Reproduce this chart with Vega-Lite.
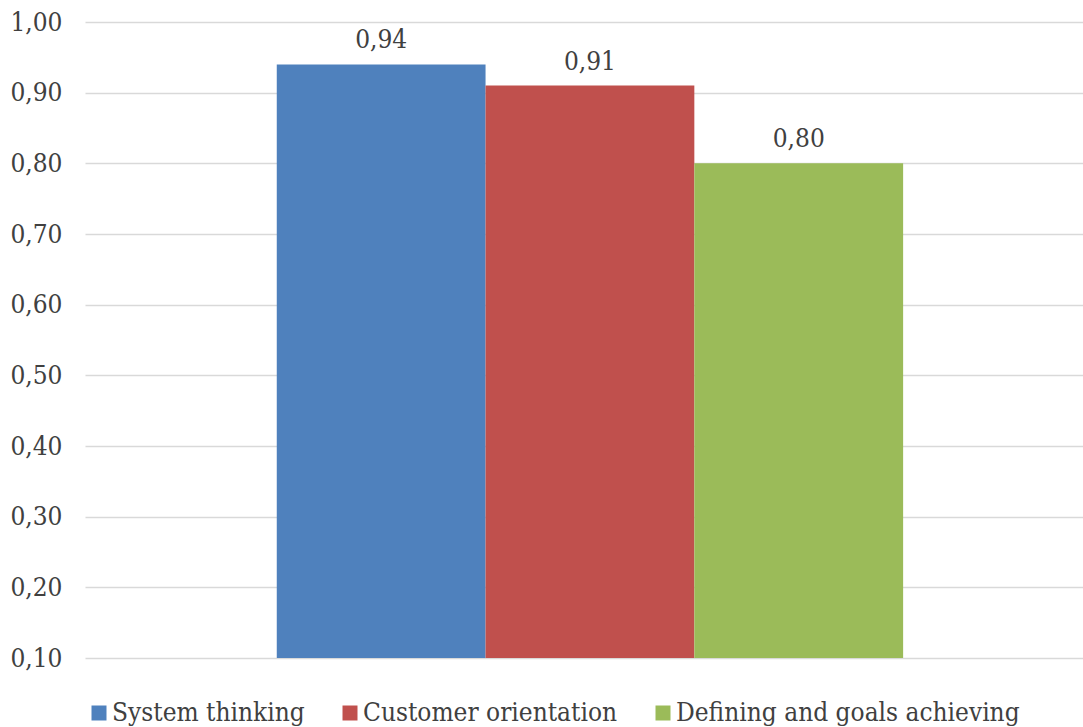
{
  "$schema": "https://vega.github.io/schema/vega-lite/v6.json",
  "width": 998,
  "height": 636,
  "autosize": {"type": "none"},
  "padding": {"left": 85, "top": 22, "right": 0, "bottom": 69},
  "background": "white",
  "config": {
    "view": {"stroke": null},
    "font": "DejaVu Serif Condensed, DejaVu Serif",
    "locale": {"number": {"decimal": ",", "thousands": " ", "grouping": [3], "currency": ["", ""]}}
  },
  "data": {
    "values": [
      {"category": "System thinking", "value": 0.94},
      {"category": "Customer orientation", "value": 0.91},
      {"category": "Defining and goals achieving", "value": 0.80}
    ]
  },
  "encoding": {
    "x": {
      "field": "category",
      "type": "nominal",
      "sort": null,
      "scale": {"paddingInner": 0, "paddingOuter": 0.89, "align": 0.516},
      "axis": null
    },
    "y": {
      "field": "value",
      "type": "quantitative",
      "scale": {"domain": [0.1, 1.0], "zero": false, "nice": false},
      "axis": {
        "title": null,
        "values": [0.1, 0.2, 0.3, 0.4, 0.5, 0.6, 0.7, 0.8, 0.9, 1.0],
        "format": ".2f",
        "domain": false,
        "ticks": false,
        "labelPadding": 23,
        "labelFont": "DejaVu Serif Condensed, DejaVu Serif",
        "labelFontSize": 26,
        "labelColor": "#404040",
        "gridColor": "#d9d9d9",
        "gridWidth": 1.5
      }
    }
  },
  "layer": [
    {
      "mark": {"type": "bar"},
      "encoding": {
        "y2": {"datum": 0.1},
        "color": {
          "field": "category",
          "type": "nominal",
          "sort": null,
          "scale": {
            "domain": ["System thinking", "Customer orientation", "Defining and goals achieving"],
            "range": ["#4f81bd", "#c0504d", "#9bbb59"]
          },
          "legend": {
            "title": null,
            "orient": "none",
            "direction": "horizontal",
            "legendX": 1,
            "legendY": 678,
            "symbolType": "square",
            "symbolSize": 225,
            "symbolStrokeWidth": 0,
            "labelFont": "DejaVu Serif Condensed, DejaVu Serif",
            "labelFontSize": 26,
            "labelColor": "#404040",
            "labelOffset": 0,
            "columnPadding": 32,
            "labelLimit": 500
          }
        }
      }
    },
    {
      "mark": {"type": "text", "baseline": "bottom", "dy": -11, "fontSize": 26, "font": "DejaVu Serif Condensed, DejaVu Serif", "color": "#404040"},
      "encoding": {
        "text": {"field": "value", "type": "quantitative", "format": ".2f"}
      }
    }
  ]
}
